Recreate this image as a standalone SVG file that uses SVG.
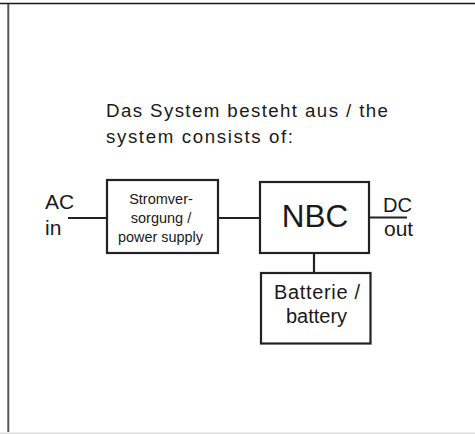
<svg xmlns="http://www.w3.org/2000/svg" width="475" height="434" viewBox="0 0 475 434">
<style>
.box{fill:#fff;stroke:#222;stroke-width:2.2}
.wire{stroke:#222;stroke-width:2.2;fill:none}
text{font-family:"Liberation Sans",Arial,sans-serif;fill:#1a1a1a}
</style>
<rect x="0" y="0" width="475" height="434" fill="#fff"/>
<g id="frame">
<line x1="0" y1="3.5" x2="475" y2="3.5" stroke="#1a1a1a" stroke-width="1.5"/>
<line x1="8.3" y1="4" x2="8.3" y2="432" stroke="#555" stroke-width="2"/>
<line x1="0" y1="433.2" x2="475" y2="433.2" stroke="#ddd" stroke-width="1.6"/>
</g>
<g id="title">
<text x="106" y="116.7" font-size="18.7" textLength="282" lengthAdjust="spacing">Das System besteht aus / the</text>
<text x="106" y="142.5" font-size="18.7" textLength="187" lengthAdjust="spacing">system consists of:</text>
</g>
<g id="connectors">
<line class="wire" x1="68" y1="218" x2="107" y2="218"/>
<line class="wire" x1="218" y1="218" x2="260" y2="218"/>
<line class="wire" x1="369" y1="217.5" x2="407" y2="217.5"/>
<line class="wire" x1="314" y1="253" x2="314" y2="273"/>
</g>
<g id="ac-in">
<text x="45" y="208.5" font-size="21">AC</text>
<text x="45" y="234.5" font-size="21">in</text>
</g>
<g id="power-supply">
<rect class="box" x="107" y="180" width="111" height="73"/>
<text x="161" y="204" font-size="14.5" text-anchor="middle">Stromver-</text>
<text x="161" y="223" font-size="14.5" text-anchor="middle">sorgung /</text>
<text x="118" y="242" font-size="14.5" textLength="85" lengthAdjust="spacingAndGlyphs">power supply</text>
</g>
<g id="nbc">
<rect class="box" x="260" y="182" width="109" height="71"/>
<text x="315" y="227" font-size="31.5" text-anchor="middle">NBC</text>
</g>
<g id="dc-out">
<text x="383" y="211.5" font-size="21" textLength="29" lengthAdjust="spacingAndGlyphs">DC</text>
<text x="384" y="236" font-size="21">out</text>
</g>
<g id="battery">
<rect class="box" x="261" y="273" width="109.5" height="70.5"/>
<text x="274" y="299" font-size="20" textLength="86" lengthAdjust="spacing">Batterie /</text>
<text x="316.5" y="323" font-size="20" text-anchor="middle">battery</text>
</g>
</svg>
